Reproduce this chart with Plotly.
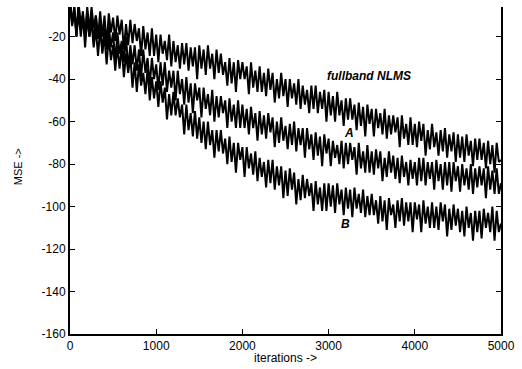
import plotly.graph_objects as go

iterations = list(range(0, 5001, 25))

mse_fullband = [
    -4, -15, -6, -18, -4, -15, -8, -20, -6, -17,
    -6, -16, -10, -21, -8, -20, -10, -24, -9, -18,
    -11, -22, -10, -19, -12, -26, -14, -24, -12, -23,
    -14, -22, -16, -29, -15, -26, -18, -29, -16, -29,
    -19, -32, -19, -28, -22, -31, -19, -34, -22, -32,
    -24, -35, -23, -33, -23, -36, -25, -34, -25, -40,
    -24, -35, -26, -38, -24, -35, -28, -40, -26, -37,
    -28, -38, -32, -43, -30, -42, -32, -46, -31, -40,
    -32, -40, -34, -47, -32, -44, -36, -46, -34, -46,
    -37, -48, -35, -45, -37, -51, -40, -49, -37, -48,
    -40, -53, -40, -49, -42, -52, -40, -54, -43, -52,
    -45, -56, -43, -54, -43, -56, -46, -54, -45, -60,
    -46, -57, -48, -60, -46, -57, -50, -62, -49, -59,
    -49, -59, -52, -64, -51, -62, -53, -67, -52, -61,
    -54, -67, -54, -63, -56, -66, -54, -68, -57, -66,
    -57, -65, -58, -72, -57, -68, -61, -71, -58, -71,
    -61, -72, -60, -69, -61, -76, -64, -73, -61, -72,
    -65, -76, -64, -74, -63, -77, -66, -74, -65, -79,
    -66, -77, -67, -79, -66, -76, -69, -81, -68, -78,
    -68, -78, -70, -82, -69, -80, -71, -84, -70, -79,
    -78,
]

mse_A = [
    -4, -13, -6, -20, -5, -17, -10, -20, -8, -20,
    -11, -23, -10, -20, -13, -28, -16, -26, -15, -25,
    -18, -32, -18, -28, -22, -32, -20, -35, -24, -33,
    -24, -36, -26, -39, -26, -37, -30, -43, -30, -40,
    -33, -45, -32, -43, -32, -46, -36, -44, -36, -50,
    -36, -47, -40, -52, -39, -51, -42, -56, -42, -50,
    -44, -58, -44, -54, -47, -57, -45, -60, -48, -58,
    -48, -56, -50, -63, -49, -60, -52, -63, -50, -63,
    -52, -63, -54, -66, -53, -63, -56, -69, -55, -66,
    -57, -68, -56, -65, -58, -72, -60, -70, -58, -69,
    -62, -73, -61, -71, -60, -74, -63, -71, -63, -77,
    -63, -73, -66, -78, -65, -76, -67, -81, -66, -75,
    -68, -81, -69, -77, -71, -80, -69, -82, -70, -80,
    -70, -78, -72, -85, -70, -82, -74, -84, -71, -84,
    -74, -85, -73, -82, -74, -88, -77, -86, -74, -84,
    -76, -87, -77, -89, -76, -86, -79, -90, -78, -87,
    -79, -90, -77, -88, -77, -90, -79, -87, -79, -92,
    -78, -88, -80, -92, -79, -90, -79, -93, -79, -88,
    -81, -93, -80, -90, -82, -92, -80, -94, -82, -91,
    -81, -90, -82, -96, -81, -92, -83, -94, -82, -94,
    -89,
]

mse_B = [
    -3, -14, -8, -20, -8, -20, -10, -25, -11, -20,
    -13, -25, -16, -29, -16, -27, -20, -33, -20, -31,
    -24, -36, -24, -35, -25, -39, -28, -37, -29, -44,
    -32, -46, -33, -43, -37, -47, -35, -50, -39, -49,
    -41, -53, -41, -51, -44, -59, -47, -57, -46, -57,
    -49, -58, -52, -66, -52, -64, -56, -67, -55, -68,
    -58, -70, -60, -73, -60, -71, -64, -77, -64, -74,
    -64, -75, -68, -80, -67, -79, -70, -84, -70, -78,
    -72, -86, -72, -82, -75, -85, -74, -88, -77, -86,
    -79, -91, -78, -89, -78, -92, -81, -90, -81, -96,
    -83, -95, -82, -92, -84, -99, -87, -97, -85, -96,
    -87, -95, -89, -102, -88, -99, -91, -102, -89, -102,
    -89, -100, -90, -103, -89, -99, -92, -104, -91, -101,
    -92, -105, -91, -101, -94, -103, -92, -105, -95, -104,
    -94, -104, -97, -108, -95, -107, -97, -111, -96, -104,
    -99, -110, -97, -107, -96, -109, -98, -107, -98, -112,
    -98, -106, -99, -112, -97, -108, -100, -110, -98, -110,
    -100, -111, -98, -107, -99, -114, -101, -111, -99, -109,
    -101, -112, -102, -114, -100, -110, -103, -116, -102, -112,
    -102, -115, -101, -110, -103, -112, -100, -116, -102, -112,
    -108,
]

x_tickvals = [0, 1000, 2000, 3000, 4000, 5000]
x_ticktext = ["0", "1000", "2000", "3000", "4000", "5000"]
y_tickvals = [-20, -40, -60, -80, -100, -120, -140, -160]
y_ticktext = ["-20", "-40", "-60", "-80", "-100", "-120", "-140", "-160"]

font_family = "Liberation Sans, Arial, Helvetica, sans-serif"

fig = go.Figure()
for ys in (mse_fullband, mse_A, mse_B):
    fig.add_trace(go.Scatter(x=iterations, y=ys, mode="lines",
                             line=dict(color="black", width=2),
                             showlegend=False, hoverinfo="skip"))

fig.update_layout(
    width=522, height=369,
    margin=dict(l=70, r=19, t=7, b=35),
    paper_bgcolor="white", plot_bgcolor="white",
    font=dict(family=font_family, size=12, color="black"),
    xaxis=dict(range=[0, 5000], tickvals=x_tickvals, ticktext=x_ticktext,
               showgrid=False, zeroline=False, showline=True,
               linecolor="black", linewidth=2, ticks="inside", ticklen=5,
               tickcolor="black", tickwidth=1, mirror=False,
               tickfont=dict(size=12)),
    yaxis=dict(range=[-160, -6], tickvals=y_tickvals, ticktext=y_ticktext,
               showgrid=False, zeroline=False, showline=True,
               linecolor="black", linewidth=2, ticks="inside", ticklen=5,
               tickcolor="black", tickwidth=1, mirror="ticks",
               tickfont=dict(size=12)),
    annotations=[
        dict(x=3464, y=-38.4, xref="x", yref="y", text="<b><i>fullband NLMS</i></b>",
             showarrow=False, font=dict(size=12)),
        dict(x=3233, y=-65.5, xref="x", yref="y", text="<b><i>A</i></b>",
             showarrow=False, font=dict(size=12)),
        dict(x=3198, y=-108, xref="x", yref="y", text="<b><i>B</i></b>",
             showarrow=False, font=dict(size=12)),
        dict(x=0.501, y=-0.072, xref="paper", yref="paper", text="iterations ->",
             showarrow=False, font=dict(size=12), xanchor="center", yanchor="middle"),
        dict(x=-0.12, y=0.511, xref="paper", yref="paper", text="MSE ->",
             showarrow=False, font=dict(size=11), textangle=-90,
             xanchor="center", yanchor="middle"),
    ],
)

fig.write_html("out.html",
               config={"displayModeBar": False},
               post_script="document.body.style.margin='0';document.body.style.overflow='hidden';")
